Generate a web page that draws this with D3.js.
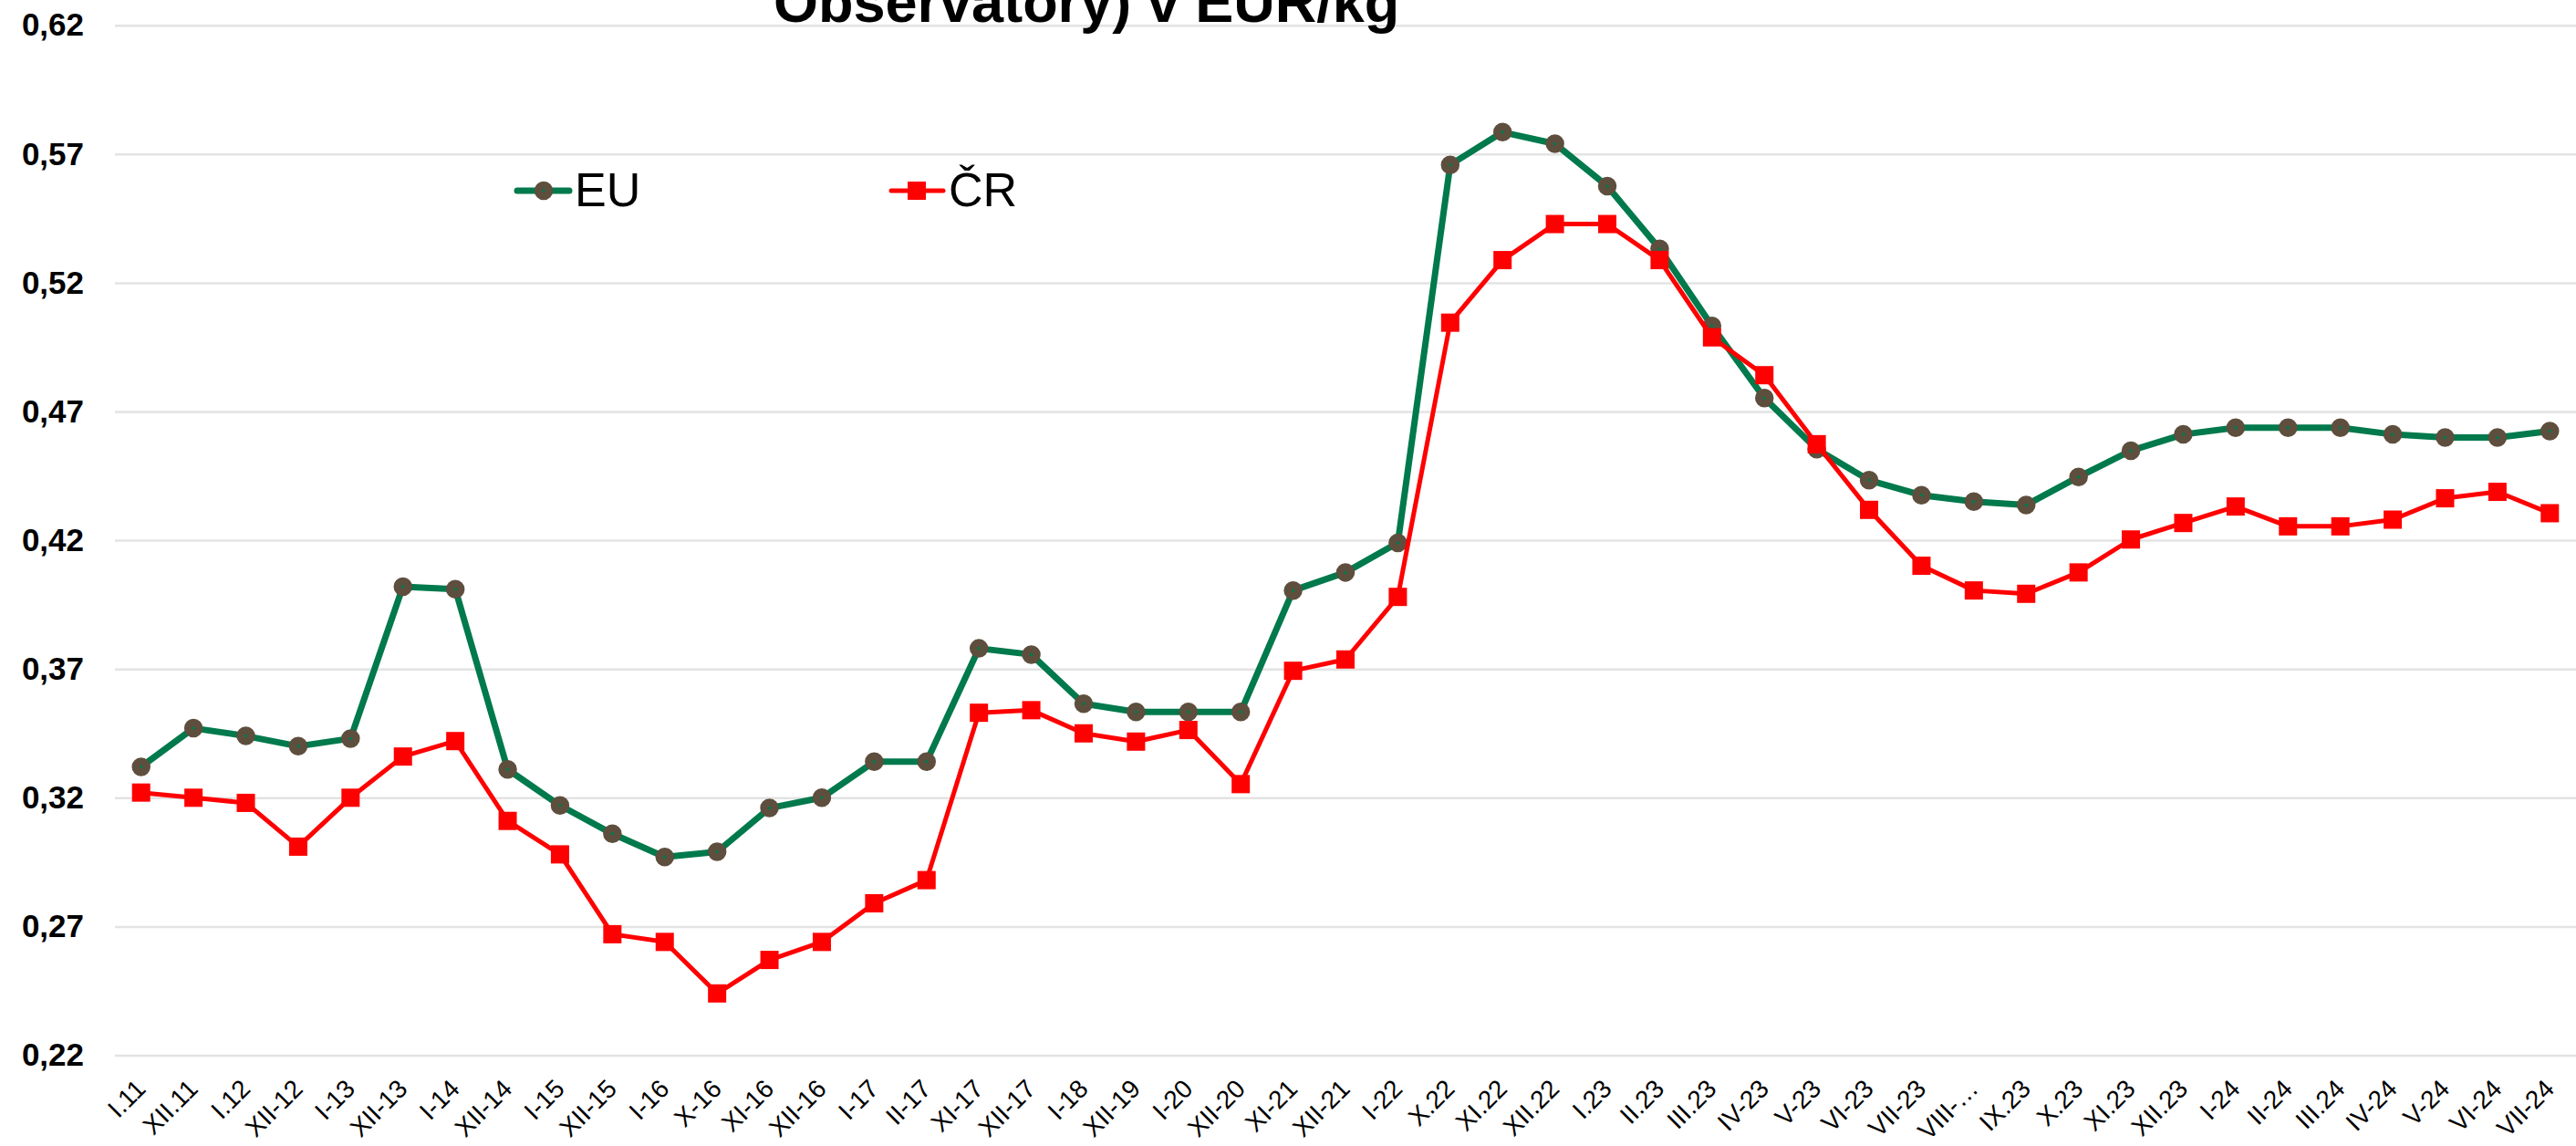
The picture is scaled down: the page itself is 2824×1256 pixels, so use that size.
<!DOCTYPE html>
<html>
<head>
<meta charset="utf-8">
<script src="https://cdn.jsdelivr.net/npm/d3@7"></script>
<style>
  body { margin: 0; background: #fff; }
  svg { display: block; font-family: "Liberation Sans", Arial, sans-serif; }
</style>
</head>
<body>
<svg id="chart" width="2824" height="1256"></svg>
<script>
const categories = [
  "I.11", "XII.11", "I.12", "XII-12", "I-13", "XII-13", "I-14", "XII-14", "I-15", "XII-15",
  "I-16", "X-16", "XI-16", "XII-16", "I-17", "II-17", "XI-17", "XII-17", "I-18", "XII-19",
  "I-20", "XII-20", "XI-21", "XII-21", "I-22", "X.22", "XI.22", "XII.22", "I.23", "II.23",
  "III.23", "IV-23", "V-23", "VI-23", "VII-23", "VIII-…", "IX.23", "X.23", "XI.23", "XII.23",
  "I-24", "II-24", "III.24", "IV-24", "V-24", "VI-24", "VII-24"
];

const euValues = [
  0.332, 0.347, 0.344, 0.340, 0.343, 0.402, 0.401, 0.331, 0.317, 0.306,
  0.297, 0.299, 0.316, 0.320, 0.334, 0.334, 0.378, 0.3756, 0.3565, 0.3533,
  0.3533, 0.3533, 0.4005, 0.4075, 0.419, 0.5658, 0.5785, 0.574, 0.5575, 0.5332,
  0.5032, 0.4752, 0.4554, 0.4433, 0.4375, 0.435, 0.4337, 0.4446, 0.4548, 0.4611,
  0.4637, 0.4637, 0.4637, 0.4611, 0.4599, 0.4599, 0.4624
];

const crValues = [
  0.322, 0.320, 0.318, 0.301, 0.320, 0.336, 0.342, 0.311, 0.298, 0.267,
  0.264, 0.244, 0.257, 0.264, 0.279, 0.288, 0.353, 0.354, 0.345, 0.3418,
  0.3463, 0.3253, 0.3693, 0.3737, 0.398, 0.5045, 0.5288, 0.5428, 0.5428, 0.5288,
  0.4988, 0.4841, 0.4573, 0.4318, 0.4101, 0.4005, 0.3992, 0.4075, 0.4203, 0.4267,
  0.4331, 0.4254, 0.4254, 0.428, 0.4363, 0.4388, 0.4305
];

const yTicks = [0.22, 0.27, 0.32, 0.37, 0.42, 0.47, 0.52, 0.57, 0.62];

const titleText = "Observatory) v EUR/kg";
const seriesNames = ["EU", "ČR"];

const svg = d3.select("#chart");
const margin = { top: 28, right: 0, bottom: 100, left: 126 };
const width = 2824;
const height = 1256;

const x = d3.scalePoint()
  .domain(categories)
  .range([margin.left, width - margin.right])
  .padding(0.5);

const y = d3.scaleLinear()
  .domain([0.22, 0.62])
  .range([1156.5, 27.7]);

const fmt = (d) => d3.format(".2f")(d).replace(".", ",");

// gridlines + y labels
const yAxis = d3.axisLeft(y)
  .tickValues(yTicks)
  .tickSize(-(width - margin.left - margin.right))
  .tickFormat(fmt)
  .tickPadding(34);

const gy = svg.append("g")
  .attr("transform", `translate(${margin.left},0)`)
  .call(yAxis);
gy.select(".domain").remove();
gy.selectAll(".tick line").attr("stroke", "#e3e3e3").attr("stroke-width", 2.5);
gy.selectAll(".tick text")
  .attr("font-size", 35)
  .attr("font-weight", "bold")
  .attr("fill", "#000")
  .attr("font-family", "'Liberation Sans', Arial, sans-serif");

// x labels
const xAxis = d3.axisBottom(x).tickSize(0).tickPadding(0);
const gx = svg.append("g")
  .attr("transform", "translate(0,1195)")
  .call(xAxis);
gx.select(".domain").remove();
gx.selectAll(".tick text")
  .attr("font-size", 28)
  .attr("fill", "#000")
  .attr("font-family", "'Liberation Sans', Arial, sans-serif")
  .attr("text-anchor", "end")
  .attr("y", 0)
  .attr("dy", 0)
  .attr("transform", "translate(6,0) rotate(-45)");

// title (top of it is cut off by the canvas)
svg.append("text")
  .attr("x", 848)
  .attr("y", 24)
  .attr("font-size", 63)
  .attr("font-weight", "bold")
  .attr("fill", "#000")
  .text(titleText);

const line = d3.line()
  .x((d, i) => x(categories[i]))
  .y((d) => y(d));

// EU series
svg.append("path")
  .datum(euValues)
  .attr("fill", "none")
  .attr("stroke", "#00794c")
  .attr("stroke-width", 7)
  .attr("stroke-linejoin", "round")
  .attr("d", line);

svg.append("g")
  .selectAll("circle")
  .data(euValues)
  .join("circle")
  .attr("cx", (d, i) => x(categories[i]))
  .attr("cy", (d) => y(d))
  .attr("r", 6)
  .attr("fill", "#00794c")
  .attr("stroke", "#5e4e3d")
  .attr("stroke-width", 8.5);

// ČR series
svg.append("path")
  .datum(crValues)
  .attr("fill", "none")
  .attr("stroke", "#ff0000")
  .attr("stroke-width", 5)
  .attr("stroke-linejoin", "round")
  .attr("d", line);

const sq = 20;
svg.append("g")
  .selectAll("rect")
  .data(crValues)
  .join("rect")
  .attr("x", (d, i) => x(categories[i]) - sq / 2)
  .attr("y", (d) => y(d) - sq / 2)
  .attr("width", sq)
  .attr("height", sq)
  .attr("fill", "#ff0000");

// legend
const legend = svg.append("g");
const legendItems = [
  { name: seriesNames[0], x0: 567, color: "#00794c", sw: 7, marker: "circle" },
  { name: seriesNames[1], x0: 977, color: "#ff0000", sw: 5, marker: "rect" },
];
legendItems.forEach((it) => {
  const g = legend.append("g");
  g.append("line")
    .attr("x1", it.x0).attr("x2", it.x0 + 57)
    .attr("y1", 209).attr("y2", 209)
    .attr("stroke", it.color)
    .attr("stroke-width", it.sw)
    .attr("stroke-linecap", "round");
  if (it.marker === "circle") {
    g.append("circle")
      .attr("cx", it.x0 + 29).attr("cy", 209).attr("r", 6)
      .attr("fill", it.color).attr("stroke", "#5e4e3d").attr("stroke-width", 8.5);
  } else {
    g.append("rect")
      .attr("x", it.x0 + 28 - sq / 2).attr("y", 209 - sq / 2)
      .attr("width", sq).attr("height", sq)
      .attr("fill", it.color);
  }
  g.append("text")
    .attr("x", it.x0 + 63)
    .attr("y", 226)
    .attr("font-size", 52)
    .attr("fill", "#000")
    .text(it.name);
});
</script>
</body>
</html>
